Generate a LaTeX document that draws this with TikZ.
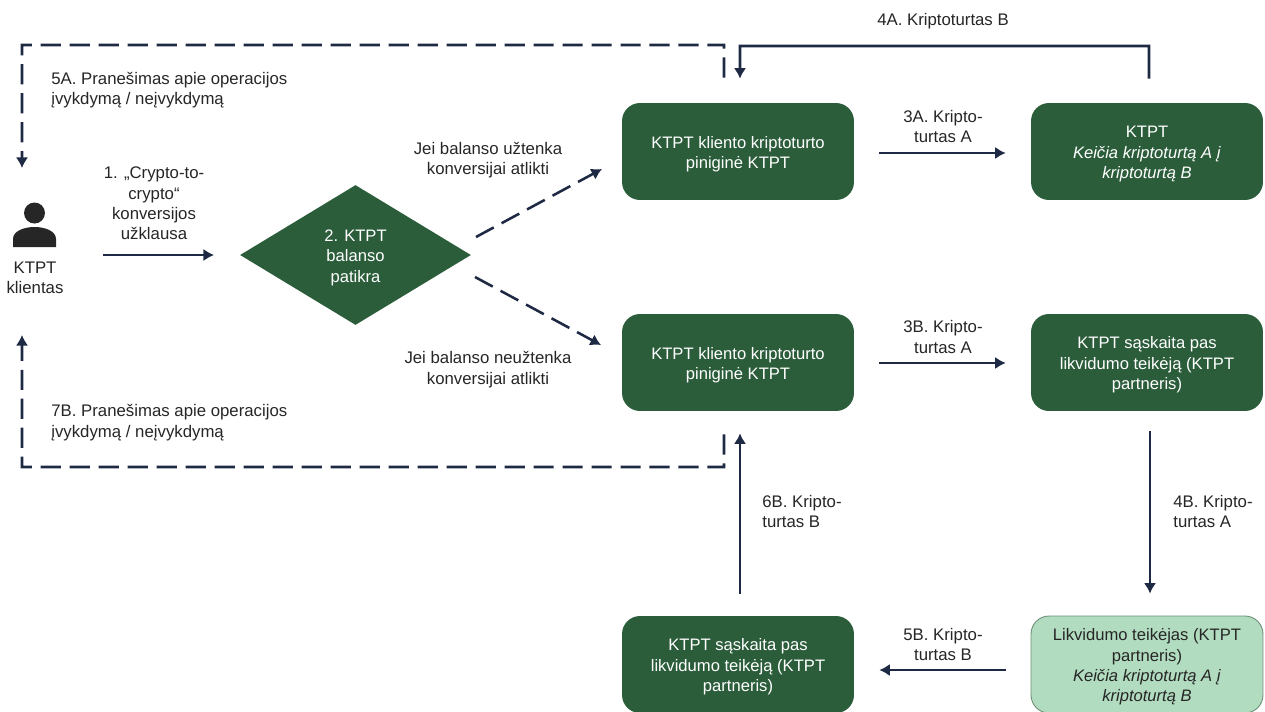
\documentclass[tikz,border=0pt]{standalone}
\usepackage{fontspec}
\setmainfont{Liberation Sans}
\usetikzlibrary{arrows.meta,shapes.geometric}
\definecolor{ktptgreen}{HTML}{2B5D3B}
\definecolor{ktptlight}{HTML}{B2DCC0}
\definecolor{ktptnavy}{HTML}{1E2A44}
\definecolor{ktpttext}{HTML}{262626}
\newcommand{\boxup}{\rule{0pt}{9.7pt}}
\tikzset{
  box/.style={rectangle,rounded corners=.36cm,minimum width=4.64cm,minimum height=1.94cm,inner sep=0pt,align=center,fill=ktptgreen,text=white,font=\fontsize{9.45}{11.6}\selectfont},
  lightbox/.style={box,fill=ktptlight,draw=ktptgreen!70,line width=.5pt,text=ktpttext},
  check/.style={diamond,aspect=1.65,minimum width=4.62cm,minimum height=2.8cm,inner sep=0pt,align=center,fill=ktptgreen,text=white,font=\fontsize{9.45}{11.6}\selectfont},
  lbl/.style={align=center,inner sep=0pt,text=ktpttext,font=\fontsize{9.55}{11.6}\selectfont},
  lbll/.style={lbl,align=left,anchor=west},
  flow/.style={draw=ktptnavy,line width=1.45pt,-{Latex[length=6pt,width=7pt]}},
  gapped/.style={flow,shorten <=.5cm,shorten >=.5cm},
  dashflow/.style={flow,dash pattern=on 11.5pt off 5pt}
}
\begin{document}
\begin{tikzpicture}[x=.02cm,y=-.02cm]
  \useasboundingbox (0,0) rectangle (1265,711);
  \clip (0,0) rectangle (1265,711);
  \draw
    (738,151.5) node[box] (wallet1){\boxup KTPT kliento kriptoturto\\piniginė KTPT}
    (1147,151.5) node[box] (ktpt){\boxup KTPT\\\textit{Keičia kriptoturtą A į}\\\textit{kriptoturtą B}}
    (738,362.5) node[box] (wallet2){\boxup KTPT kliento kriptoturto\\piniginė KTPT}
    (1147,362.5) node[box] (account1){\boxup KTPT sąskaita pas\\likvidumo teikėją (KTPT\\partneris)}
    (738,664.5) node[box] (account2){\boxup KTPT sąskaita pas\\likvidumo teikėją (KTPT\\partneris)}
    (1147,664.5) node[lightbox] (provider){\boxup Likvidumo teikėjas (KTPT\\partneris)\\\textit{Keičia kriptoturtą A į}\\\textit{kriptoturtą B}}
    (355.5,255) node[check] (check){\boxup 2. KTPT\\balanso\\patikra}
    (35,278) node[lbl] (client){KTPT\\klientas};
  \fill[ktpttext] (34.5,213) circle (10.5);
  \fill[ktpttext] (13,247) -- (13,239) .. controls (13,231) and (24,227) .. (34.5,227)
    .. controls (45,227) and (56,231) .. (56,239) -- (56,247) -- cycle;
  \draw
    (943,21) node[lbl] (l4a){4A. Kriptoturtas B}
    (943,126.5) node[lbl] (l3a){3A. Kripto-\\turtas A}
    (943,337) node[lbl] (l3b){3B. Kripto-\\turtas A}
    (943,644.5) node[lbl] (l5b){5B. Kripto-\\turtas B}
    (762,511.5) node[lbll] (l6b){6B. Kripto-\\turtas B}
    (1173,511.5) node[lbll] (l4b){4B. Kripto-\\turtas A}
    (154,203.5) node[lbl] (l1){1. „Crypto-to-\\crypto“\\konversijos\\užklausa}
    (488,160) node[lbl] (lyes){Jei balanso užtenka\\konversijai atlikti}
    (488,369.5) node[lbl] (lno){Jei balanso neužtenka\\konversijai atlikti}
    (51,90) node[lbll] (l5a){5A. Pranešimas apie operacijos\\įvykdymą / neįvykdymą}
    (51,422.5) node[lbll] (l7b){7B. Pranešimas apie operacijos\\įvykdymą / neįvykdymą};
  \coordinate (start1) at (103,255);
  \coordinate (end1) at (214,255);
  \coordinate (yes1) at (476,237);
  \coordinate (yes2) at (602,169);
  \coordinate (no1) at (475,277);
  \coordinate (no2) at (601,345);
  \coordinate (top4a) at (740,46);
  \coordinate (top5a) at (724,45);
  \coordinate (left5a) at (22,45);
  \coordinate (end5a) at (22,168);
  \coordinate (low7b) at (724,467);
  \coordinate (left7b) at (22,467);
  \coordinate (end7b) at (22,335);
  \begin{scope}
    \draw[flow] (start1) -- (end1);
    \draw[dashflow] (yes1) -- (yes2);
    \draw[dashflow] (no1) -- (no2);
    \draw[gapped] ([yshift=-.03cm]wallet1.east) -- ([yshift=-.03cm]ktpt.west);
    \draw[gapped] ([yshift=-.01cm]wallet2.east) -- ([yshift=-.01cm]account1.west);
    \draw[flow,shorten <=.4cm,shorten >=.44cm] ([xshift=.06cm]account1.south) -- ([xshift=.06cm]provider.north);
    \draw[gapped] ([yshift=-.11cm]provider.west) -- ([yshift=-.11cm]account2.east);
    \draw[flow,shorten <=.44cm,shorten >=.44cm] ([xshift=.04cm]account2.north) -- ([xshift=.04cm]wallet2.south);
    \draw[flow,shorten <=.48cm,shorten >=.48cm] ([xshift=.04cm]ktpt.north) |- (top4a) -- ([xshift=.04cm]wallet1.north);
    \draw[dashflow,shorten <=.5cm] ([xshift=-.28cm]wallet1.north) -- (top5a) -- (left5a) -- (end5a);
    \draw[dashflow,shorten <=.46cm] ([xshift=-.28cm]wallet2.south) -- (low7b) -- (left7b) -- (end7b);
  \end{scope}
\end{tikzpicture}
\end{document}
